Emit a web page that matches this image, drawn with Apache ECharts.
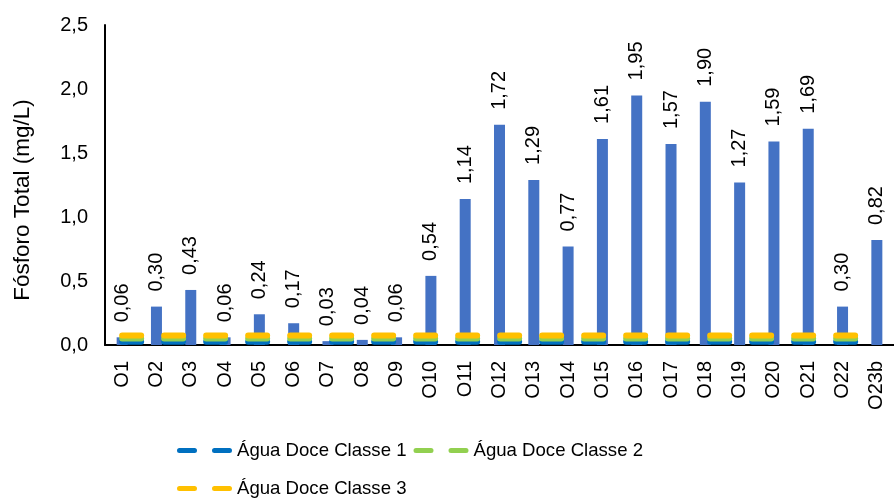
<!DOCTYPE html>
<html>
<head>
<meta charset="utf-8">
<script src="https://cdn.jsdelivr.net/npm/echarts@6/dist/echarts.min.js"></script>
<style>
html,body{margin:0;padding:0;background:#fff;}
#chart{width:894px;height:498px;}
</style>
</head>
<body>
<div id="chart"></div>
<script>
var categories = ['O1','O2','O3','O4','O5','O6','O7','O8','O9','O10','O11','O12','O13','O14','O15','O16','O17','O18','O19','O20','O21','O22','O23b'];
var fosforo = [0.06,0.30,0.43,0.06,0.24,0.17,0.03,0.04,0.06,0.54,1.14,1.72,1.29,0.77,1.61,1.95,1.57,1.90,1.27,1.59,1.69,0.30,0.82];
var classe1 = [0.025,0.025,0.025,0.025,0.025,0.025,0.025,0.025,0.025,0.025,0.025,0.025,0.025,0.025,0.025,0.025,0.025,0.025,0.025,0.025,0.025,0.025,0.025];
var classe2 = [0.05,0.05,0.05,0.05,0.05,0.05,0.05,0.05,0.05,0.05,0.05,0.05,0.05,0.05,0.05,0.05,0.05,0.05,0.05,0.05,0.05,0.05,0.05];
var classe3 = [0.075,0.075,0.075,0.075,0.075,0.075,0.075,0.075,0.075,0.075,0.075,0.075,0.075,0.075,0.075,0.075,0.075,0.075,0.075,0.075,0.075,0.075,0.075];
var yTicks = {min: 0, max: 2.5, interval: 0.5};
var seriesNames = ['Fósforo Total', 'Água Doce Classe 1', 'Água Doce Classe 2', 'Água Doce Classe 3'];

var FONT = '"Liberation Sans", Arial, sans-serif';
var dashIcon = 'path://M2.5,0 h15 a2.5,2.5 0 0 1 0,5 h-15 a2.5,2.5 0 0 1 0,-5 z M37.5,0 h15 a2.5,2.5 0 0 1 0,5 h-15 a2.5,2.5 0 0 1 0,-5 z';

function fmt(v, d) { return v.toFixed(d).replace('.', ','); }

function limitLine(name, data, color) {
  return {
    name: name,
    type: 'line',
    data: data,
    color: color,
    symbol: 'none',
    silent: true,
    itemStyle: {color: color},
    lineStyle: {color: color, width: 6, type: [19, 23], cap: 'round'}
  };
}

var chart = echarts.init(document.getElementById('chart'));
chart.setOption({
  animation: false,
  backgroundColor: '#fff',
  textStyle: {fontFamily: FONT, color: '#000'},
  grid: {left: 105, right: -3, top: 25, bottom: 153, containLabel: false},
  legend: [
    {
      data: [seriesNames[1], seriesNames[2]],
      left: 177, top: 441, padding: 0, itemGap: 7,
      icon: dashIcon, itemWidth: 55, itemHeight: 5,
      itemStyle: {borderWidth: 0},
      textStyle: {fontFamily: FONT, fontSize: 18.6, color: '#000'}
    },
    {
      data: [seriesNames[3]],
      left: 177, top: 479, padding: 0,
      icon: dashIcon, itemWidth: 55, itemHeight: 5,
      itemStyle: {borderWidth: 0},
      textStyle: {fontFamily: FONT, fontSize: 18.6, color: '#000'}
    }
  ],
  xAxis: {
    type: 'category',
    data: categories,
    axisLine: {lineStyle: {color: '#000', width: 2}},
    axisTick: {show: false},
    axisLabel: {rotate: 90, margin: 16, fontSize: 20, color: '#000', fontFamily: FONT, interval: 0}
  },
  yAxis: {
    type: 'value',
    min: yTicks.min, max: yTicks.max, interval: yTicks.interval,
    name: 'Fósforo Total (mg/L)',
    nameLocation: 'middle', nameRotate: 90, nameGap: 71,
    nameTextStyle: {fontSize: 22.5, color: '#000', fontFamily: FONT, padding: [0, 30, 0, 0]},
    axisLine: {show: true, lineStyle: {color: '#000', width: 2}},
    axisTick: {show: false},
    splitLine: {show: false},
    axisLabel: {margin: 17, fontSize: 20, color: '#000', fontFamily: FONT,
      formatter: function (v) { return fmt(v, 1); }}
  },
  series: [
    {
      name: seriesNames[0],
      type: 'bar',
      data: fosforo,
      barWidth: 11,
      itemStyle: {color: '#4472C4'},
      label: {
        show: true, position: 'top', rotate: 90, align: 'left', verticalAlign: 'middle',
        distance: 15, fontSize: 20, color: '#000', fontFamily: FONT,
        formatter: function (p) { return fmt(p.value, 2); }
      }
    },
    limitLine(seriesNames[1], classe1, '#0070C0'),
    limitLine(seriesNames[2], classe2, '#92D050'),
    limitLine(seriesNames[3], classe3, '#FFC000')
  ]
});
</script>
</body>
</html>
